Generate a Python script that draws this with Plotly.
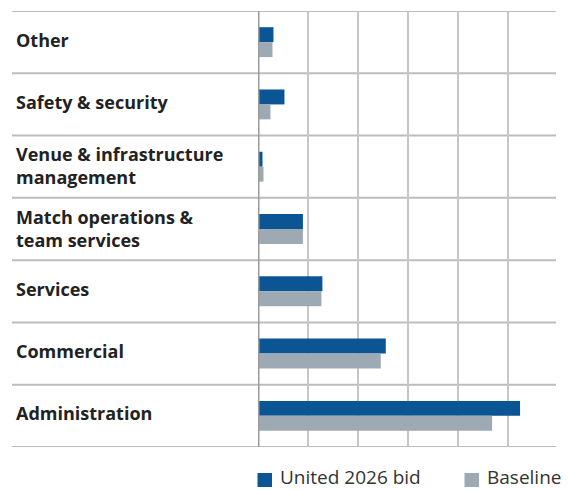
import plotly.graph_objects as go

# Cost categories, listed top to bottom
categories = [
    "Other",
    "Safety & security",
    "Venue & infrastructure<br>management",
    "Match operations &<br>team services",
    "Services",
    "Commercial",
    "Administration",
]
united_2026 = [31, 53, 9, 90, 129, 256, 525]
baseline = [29, 25, 11, 90, 127, 246, 469]
x_ticks = [0, 100, 200, 300, 400, 500]
series_names = ["United 2026 bid", "Baseline"]

BLUE = "#0b5595"
GREY = "#9eaab3"
W, H = 569, 490
ML, MR, MT, MB = 12, 13, 11, 43
PW, PH = W - ML - MR, H - MT - MB
axis_start = (258 - ML) / PW


def px_x(px):
    return (px - ML) / PW


def px_y(py):
    return (H - MB - py) / PH


y_idx = list(range(len(categories)))

fig = go.Figure()
fig.add_trace(go.Bar(
    y=y_idx, x=united_2026, orientation="h", name=series_names[0],
    marker=dict(color=BLUE, line=dict(width=0)),
))
fig.add_trace(go.Bar(
    y=y_idx, x=baseline, orientation="h", name=series_names[1],
    marker=dict(color=GREY, line=dict(width=0)),
))

# Row separators spanning the label column and plot
shapes = []
for i in range(len(categories) + 1):
    shapes.append(dict(
        type="line", xref="paper", yref="y", x0=0, x1=1,
        y0=i - 0.5, y1=i - 0.5, line=dict(color="#bdbdbd", width=2), layer="below",
    ))
# Baseline axis line
shapes.append(dict(
    type="line", xref="x", yref="paper", x0=0, x1=0, y0=0, y1=1,
    line=dict(color="#9a9a9a", width=3), layer="above",
))

annotations = []
for i, c in enumerate(categories):
    two_line = "<br>" in c
    annotations.append(dict(
        xref="paper", yref="y", x=0, y=i, xshift=2, yshift=1 if two_line else 2.5,
        xanchor="left", yanchor="middle",
        text="<b>" + c + "</b>", showarrow=False, align="left",
        font=dict(family="Open Sans", size=18, color="#222222"),
    ))

# Legend below the plot
legend_items = [(series_names[0], BLUE, 257.5), (series_names[1], GREY, 464.5)]
for name, color, left in legend_items:
    shapes.append(dict(
        type="rect", xref="paper", yref="paper",
        x0=px_x(left), x1=px_x(left + 14.5), y0=px_y(487), y1=px_y(473),
        fillcolor=color, line=dict(width=0),
    ))
    annotations.append(dict(
        xref="paper", yref="paper", x=px_x(left + 20), y=px_y(477.5),
        xanchor="left", yanchor="middle", text=name, showarrow=False,
        font=dict(family="Open Sans", size=19, color="#333333"),
    ))

fig.update_layout(
    width=W, height=H,
    margin=dict(l=ML, r=MR, t=MT, b=MB),
    paper_bgcolor="white", plot_bgcolor="white",
    barmode="group", bargap=0.52, bargroupgap=0,
    xaxis=dict(
        domain=[axis_start, 1], range=[0, 597], tickvals=x_ticks, showticklabels=False,
        showgrid=True, gridcolor="#c6c6c6", gridwidth=1.5, zeroline=False, showline=False,
    ),
    yaxis=dict(
        range=[len(categories) - 0.5, -0.5], showticklabels=False, showgrid=False,
        zeroline=False, showline=False,
    ),
    shapes=shapes,
    annotations=annotations,
    showlegend=False,
    font=dict(family="Open Sans"),
)

fig.write_html("out.html")
